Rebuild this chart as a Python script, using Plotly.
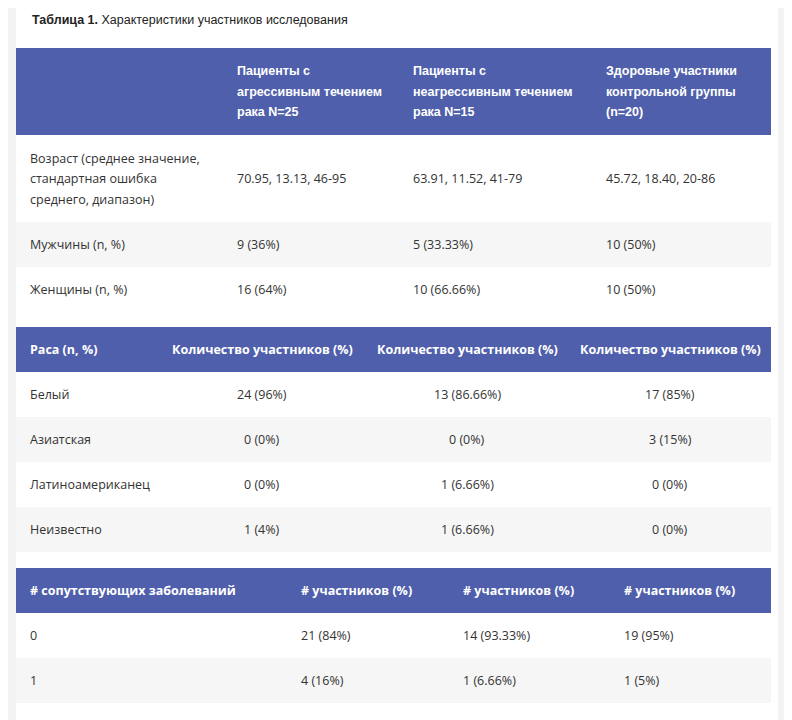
import plotly.graph_objects as go

# ---- data ----
title_bold = "Таблица 1."
title_rest = " Характеристики участников исследования"

t1_header = ["", "Пациенты с\nагрессивным течением\nрака N=25",
             "Пациенты с\nнеагрессивным течением\nрака N=15",
             "Здоровые участники\nконтрольной группы\n(n=20)"]
t1_rows = [
    ["Возраст (среднее значение,\nстандартная ошибка\nсреднего, диапазон)",
     "70.95, 13.13, 46-95", "63.91, 11.52, 41-79", "45.72, 18.40, 20-86"],
    ["Мужчины (n, %)", "9 (36%)", "5 (33.33%)", "10 (50%)"],
    ["Женщины (n, %)", "16 (64%)", "10 (66.66%)", "10 (50%)"],
]
t2_header = ["Раса (n, %)", "Количество участников (%)",
             "Количество участников (%)", "Количество участников (%)"]
t2_rows = [
    ["Белый", "24 (96%)", "13 (86.66%)", "17 (85%)"],
    ["Азиатская", "0 (0%)", "0 (0%)", "3 (15%)"],
    ["Латиноамериканец", "0 (0%)", "1 (6.66%)", "0 (0%)"],
    ["Неизвестно", "1 (4%)", "1 (6.66%)", "0 (0%)"],
]
t3_header = ["# сопутствующих заболеваний", "# участников (%)",
             "# участников (%)", "# участников (%)"]
t3_rows = [
    ["0", "21 (84%)", "14 (93.33%)", "19 (95%)"],
    ["1", "4 (16%)", "1 (6.66%)", "1 (5%)"],
    ["", "", "", ""],
]

HEAD = "#4f5fab"
ALT = "#f6f6f6"
TXT = "#333333"
X0, X1 = 16, 771
LINE = 20.5

shapes = []
ann = []


def rect(y0, y1, color, x0=X0, x1=X1):
    shapes.append(dict(type="rect", xref="x", yref="y", x0=x0, x1=x1, y0=y0, y1=y1,
                       fillcolor=color, line_width=0, layer="below"))


def text(x, ymid, s, anchor, bold=False, color=TXT, family="Open Sans", size=12.5):
    lines = s.split("\n")
    n = len(lines)
    for i, ln in enumerate(lines):
        y = ymid + (i - (n - 1) / 2) * LINE
        t = f"<b>{ln}</b>" if bold else ln
        ann.append(dict(x=x, y=y, xref="x", yref="y", text=t, showarrow=False,
                        xanchor=anchor, yanchor="middle",
                        font=dict(family=family, size=size, color=color)))


def table(top, header, rows, hh, rh, cols, anchors, hfam):
    rect(top, top + hh, HEAD)
    for c, s in enumerate(header):
        text(cols[c], top + hh / 2, s, anchors[c], bold=True, color="white", family=hfam)
    y = top + hh
    for r, row in enumerate(rows):
        h = rh[r]
        if r % 2 == 1:
            rect(y, y + h, ALT)
        for c, s in enumerate(row):
            text(cols[c], y + h / 2, s, anchors[c])
        y += h


# page background and white panel
rect(8, 730, "white", 16, 778)

ann.append(dict(x=30, y=20, xref="x", yref="y", showarrow=False, xanchor="left", yanchor="middle",
                text=f"<b>{title_bold}</b>{title_rest}",
                font=dict(family="Liberation Sans", size=12.5, color="#222")))

table(48, t1_header, t1_rows, 87, [87, 45, 45], [28, 235, 411, 604],
      ["left"] * 4, "Liberation Sans")
table(327, t2_header, t2_rows, 45, [45] * 4, [28, 262, 467, 670],
      ["left", "center", "center", "center"], "Open Sans")
table(568, t3_header, t3_rows, 45, [45] * 3, [28, 299, 461, 622],
      ["left"] * 4, "Open Sans")

fig = go.Figure()
fig.update_layout(
    width=792, height=720, margin=dict(l=0, r=0, t=0, b=0),
    paper_bgcolor="#f3f3f3", plot_bgcolor="#f3f3f3",
    xaxis=dict(range=[8, 800], visible=False, fixedrange=True),
    yaxis=dict(range=[728, 8], visible=False, fixedrange=True),
    shapes=shapes, annotations=ann, showlegend=False,
)
fig.write_html("out.html")
